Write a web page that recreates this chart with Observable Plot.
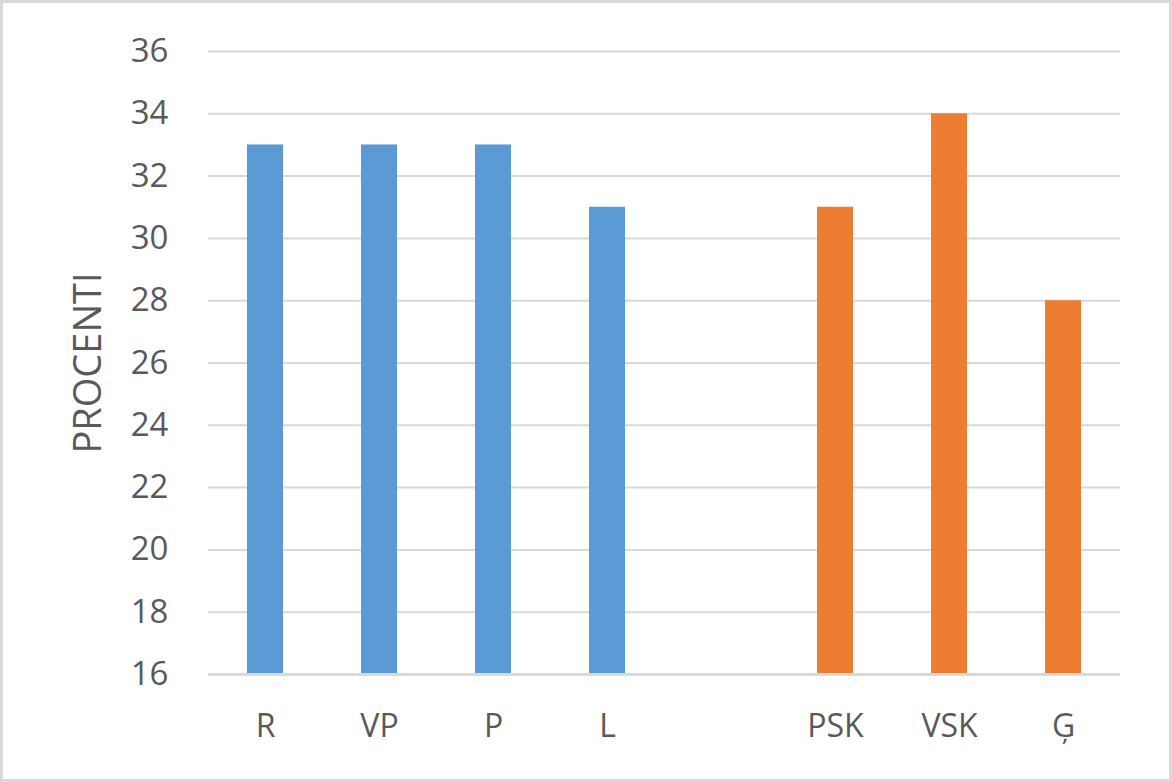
<!DOCTYPE html>
<html>
<head>
<meta charset="utf-8">
<script src="https://cdn.jsdelivr.net/npm/d3@7"></script>
<script src="https://cdn.jsdelivr.net/npm/@observablehq/plot@0.6"></script>
<style>
  html, body { margin: 0; padding: 0; background: #fff; }
  #chart svg { display: block; outline: 3px solid #d9d9d9; outline-offset: -3px; }
</style>
</head>
<body>
<div id="chart"></div>
<script>
const categories = ["R", "VP", "P", "L", "", "PSK", "VSK", "Ģ"];
const barCategories = ["R", "VP", "P", "L", "PSK", "VSK", "Ģ"];
const values = [33, 33, 33, 31, 31, 34, 28];
const groups = ["A", "A", "A", "A", "B", "B", "B"];
const yTicks = [16, 18, 20, 22, 24, 26, 28, 30, 32, 34, 36];
const yLabel = "PROCENTI";
const groupColors = {A: "#5b9bd5", B: "#ed7d31"};

const data = barCategories.map((c, i) => ({cat: c, value: values[i], group: groups[i]}));

const chart = Plot.plot({
  width: 1172,
  height: 782,
  marginLeft: 208,
  marginRight: 52,
  marginTop: 51,
  marginBottom: 108,
  style: {fontFamily: "'Open Sans', sans-serif", fontSize: "33px", color: "#595959", background: "#fff"},
  x: {domain: categories, paddingInner: 0.684, paddingOuter: 0.342, label: null},
  y: {domain: [16, 36], ticks: yTicks, label: null},
  marks: [
    Plot.gridY(yTicks.filter(t => t !== 16), {stroke: "#d9d9d9", strokeOpacity: 1, strokeWidth: 2}),
    Plot.barY(data, {x: "cat", y1: 16, y2: "value", fill: d => groupColors[d.group]}),
    Plot.ruleY([16], {stroke: "#d9d9d9", strokeWidth: 3}),
    Plot.axisY(yTicks, {tickSize: 0, tickPadding: 40, fill: "#595959", fontSize: 33, label: null}),
    Plot.text([yLabel], {frameAnchor: "left", textAnchor: "middle", lineAnchor: "middle", rotate: -90, dx: -120, fontSize: 38, fill: "#595959", text: d => d}),
    Plot.axisX({tickSize: 0, tickPadding: 40, fill: "#595959", fontSize: 32, label: null})
  ]
});
document.getElementById("chart").appendChild(chart);
</script>
</body>
</html>
